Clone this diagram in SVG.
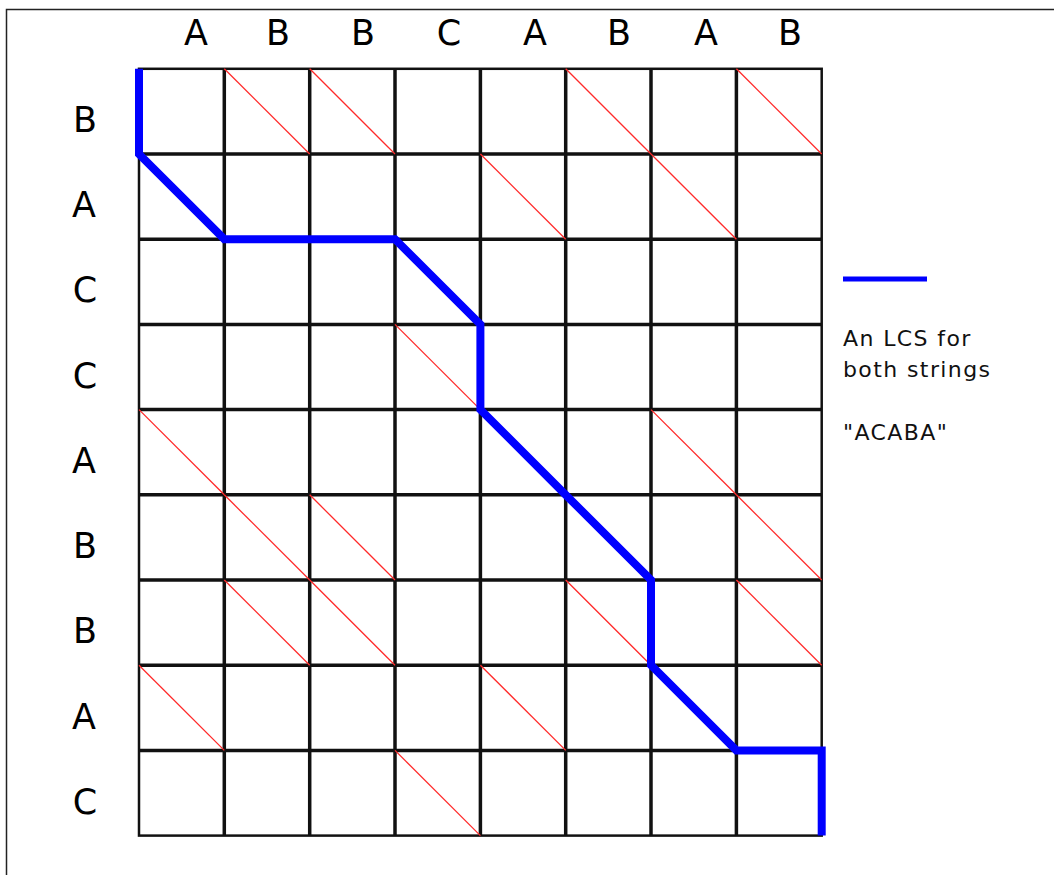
<svg xmlns="http://www.w3.org/2000/svg" width="1054" height="875" viewBox="0 0 1054 875">
<style>
.lbl{font-family:"DejaVu Sans",sans-serif;font-size:35px;fill:#000;text-anchor:middle}
.leg{font-family:"DejaVu Sans",sans-serif;font-size:22px;letter-spacing:1.4px;fill:#111}
.grid line{stroke:#111;stroke-width:3.5}
.outer{fill:none;stroke:#111;stroke-width:2.5}
.diag line{stroke:#ff2a2a;stroke-width:1.3}
.path{fill:none;stroke:#0000ff;stroke-width:8;stroke-linejoin:miter}
</style>
<rect x="0" y="0" width="1054" height="875" fill="#fff"/>
<path d="M6.5,875 V9.5 H1054" fill="none" stroke="#222" stroke-width="1.5"/>
<g id="col-labels">
<text class="lbl" x="196" y="45">A</text>
<text class="lbl" x="278" y="45">B</text>
<text class="lbl" x="363" y="45">B</text>
<text class="lbl" x="449" y="45">C</text>
<text class="lbl" x="535" y="45">A</text>
<text class="lbl" x="619" y="45">B</text>
<text class="lbl" x="706" y="45">A</text>
<text class="lbl" x="790" y="45">B</text>
</g>
<g id="row-labels">
<text class="lbl" x="85" y="132">B</text>
<text class="lbl" x="84" y="217">A</text>
<text class="lbl" x="85" y="302">C</text>
<text class="lbl" x="85" y="388">C</text>
<text class="lbl" x="84" y="473">A</text>
<text class="lbl" x="85" y="558">B</text>
<text class="lbl" x="85" y="643">B</text>
<text class="lbl" x="84" y="729">A</text>
<text class="lbl" x="85" y="814">C</text>
</g>
<g id="grid" class="grid">
<line x1="224.3" y1="68.8" x2="224.3" y2="835.6"/>
<line x1="309.7" y1="68.8" x2="309.7" y2="835.6"/>
<line x1="395" y1="68.8" x2="395" y2="835.6"/>
<line x1="480.4" y1="68.8" x2="480.4" y2="835.6"/>
<line x1="565.7" y1="68.8" x2="565.7" y2="835.6"/>
<line x1="651" y1="68.8" x2="651" y2="835.6"/>
<line x1="736.4" y1="68.8" x2="736.4" y2="835.6"/>
<line x1="139" y1="154" x2="821.7" y2="154"/>
<line x1="139" y1="239.2" x2="821.7" y2="239.2"/>
<line x1="139" y1="324.4" x2="821.7" y2="324.4"/>
<line x1="139" y1="409.6" x2="821.7" y2="409.6"/>
<line x1="139" y1="494.8" x2="821.7" y2="494.8"/>
<line x1="139" y1="580" x2="821.7" y2="580"/>
<line x1="139" y1="665.2" x2="821.7" y2="665.2"/>
<line x1="139" y1="750.4" x2="821.7" y2="750.4"/>
<rect class="outer" x="139" y="68.8" width="682.7" height="766.8"/>
</g>
<g id="matches" class="diag">
<line x1="224.3" y1="68.8" x2="309.7" y2="154"/>
<line x1="309.7" y1="68.8" x2="395" y2="154"/>
<line x1="565.7" y1="68.8" x2="651" y2="154"/>
<line x1="736.4" y1="68.8" x2="821.7" y2="154"/>
<line x1="480.4" y1="154" x2="565.7" y2="239.2"/>
<line x1="651" y1="154" x2="736.4" y2="239.2"/>
<line x1="395" y1="324.4" x2="480.4" y2="409.6"/>
<line x1="139" y1="409.6" x2="224.3" y2="494.8"/>
<line x1="651" y1="409.6" x2="736.4" y2="494.8"/>
<line x1="224.3" y1="494.8" x2="309.7" y2="580"/>
<line x1="309.7" y1="494.8" x2="395" y2="580"/>
<line x1="736.4" y1="494.8" x2="821.7" y2="580"/>
<line x1="224.3" y1="580" x2="309.7" y2="665.2"/>
<line x1="309.7" y1="580" x2="395" y2="665.2"/>
<line x1="565.7" y1="580" x2="651" y2="665.2"/>
<line x1="736.4" y1="580" x2="821.7" y2="665.2"/>
<line x1="139" y1="665.2" x2="224.3" y2="750.4"/>
<line x1="480.4" y1="665.2" x2="565.7" y2="750.4"/>
<line x1="395" y1="750.4" x2="480.4" y2="835.6"/>
</g>
<g id="connectors">
<path class="path" d="M139,68.8 V154 L224.3,239.2 H395 L480.4,324.4 V409.6 L565.7,494.8 L651,580 V665.2 L736.4,750.4 H821.7 V835.6"/>
</g>
<g id="legend">
<line x1="843" y1="279" x2="927" y2="279" stroke="#0000ff" stroke-width="5"/>
<text class="leg" x="843" y="346">An LCS for</text>
<text class="leg" x="843" y="377">both strings</text>
<text class="leg" x="843" y="440">"ACABA"</text>
</g>
</svg>
